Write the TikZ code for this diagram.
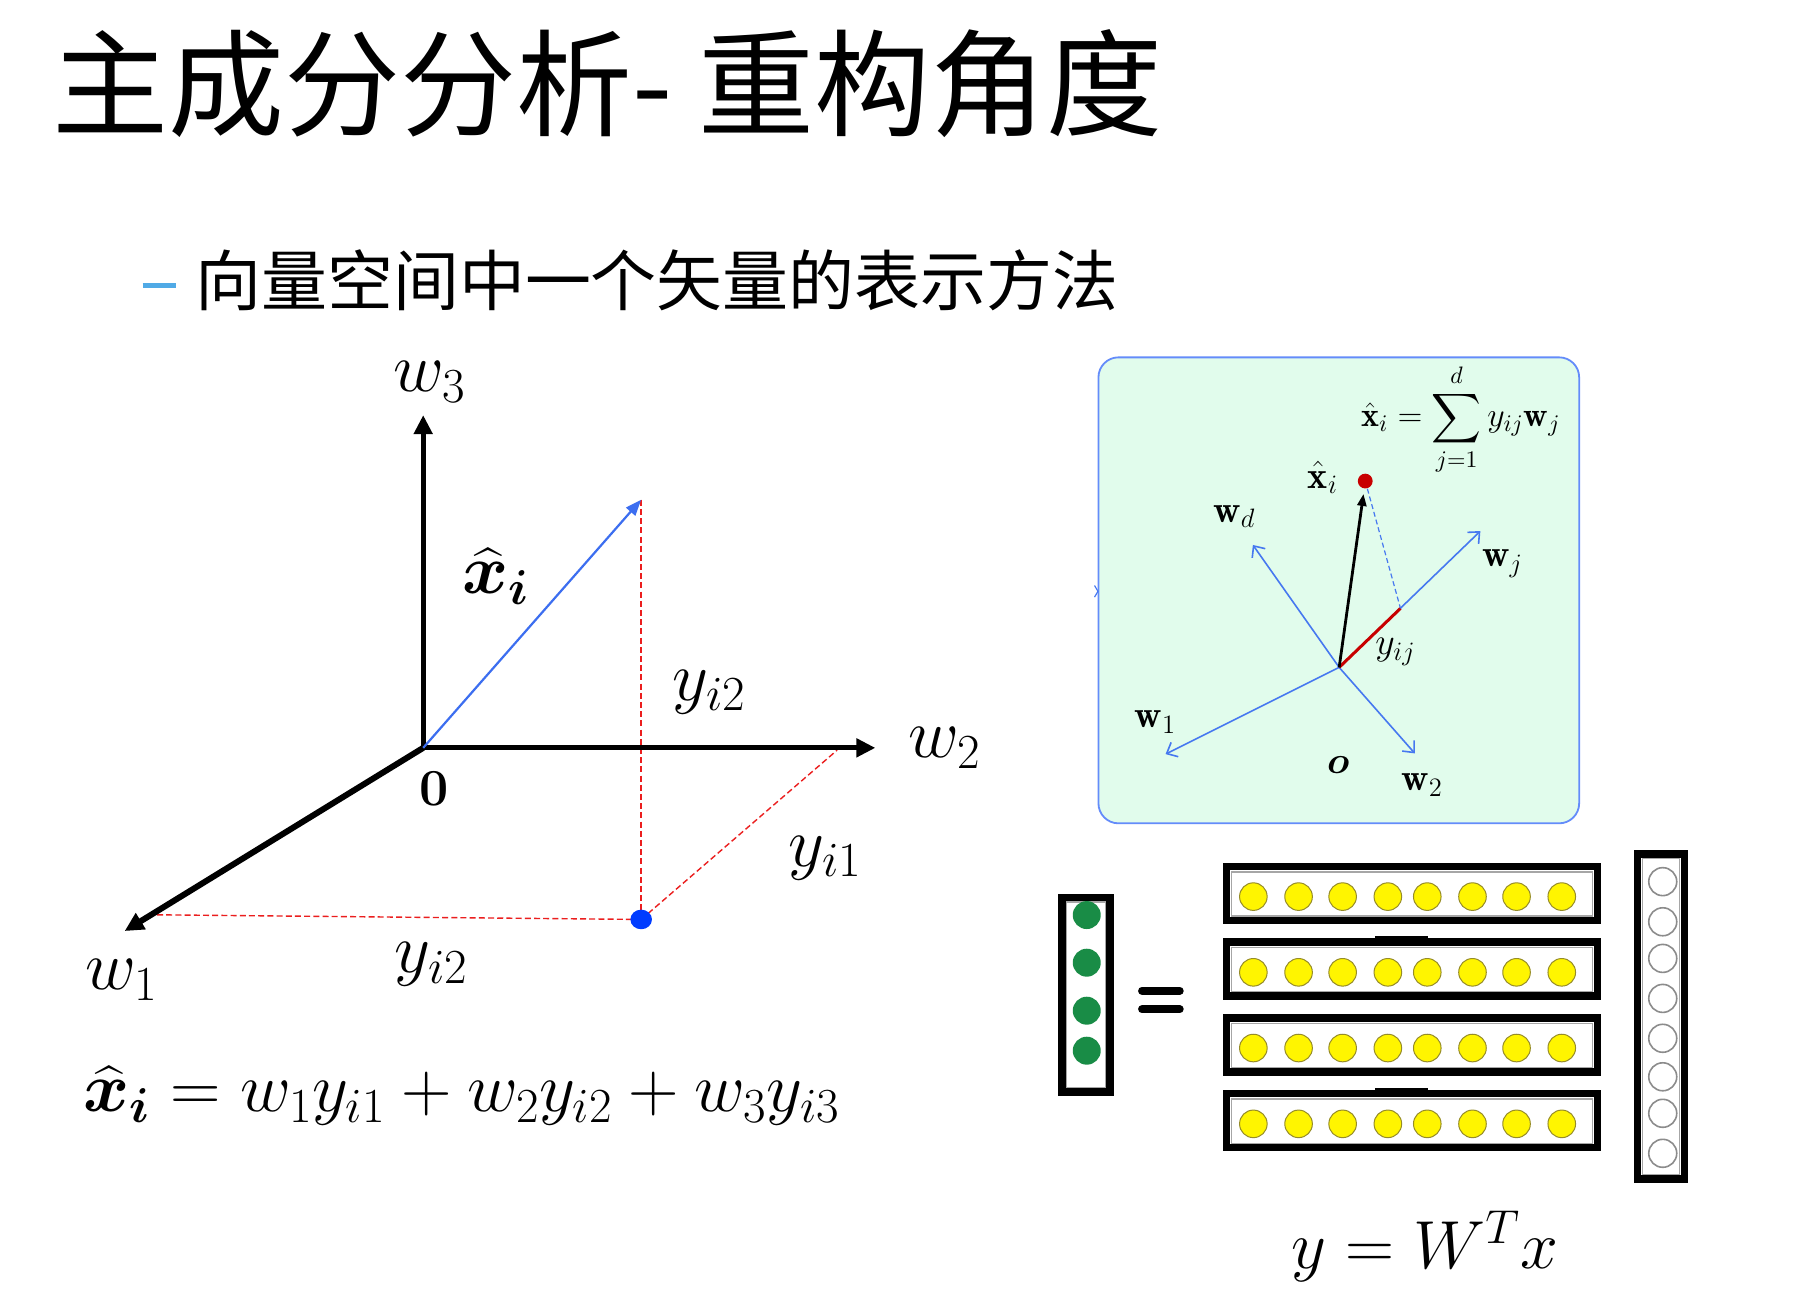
\RequirePackage{fix-cm}
\documentclass[tikz,border=0pt]{standalone}
\usepackage{amsmath,bm}
\usepackage{fontspec}
\newfontfamily\cjk{Noto Sans CJK SC}
\usetikzlibrary{arrows.meta}
\definecolor{dashblue}{RGB}{80,170,230}
\definecolor{vecblue}{RGB}{60,110,240}
\definecolor{dotblue}{RGB}{0,60,255}
\definecolor{pfill}{RGB}{225,252,236}
\definecolor{pborder}{RGB}{100,140,250}
\definecolor{parrow}{RGB}{70,120,240}
\definecolor{pred}{RGB}{200,0,0}
\definecolor{dred}{RGB}{235,30,30}
\definecolor{ygreen}{RGB}{25,140,70}
\definecolor{yfill}{RGB}{255,245,0}
\definecolor{yedge}{RGB}{150,140,40}
\begin{document}
\begin{tikzpicture}[x=0.58pt,y=-0.58pt,
  mlabel/.style={inner sep=0pt,font=\fontsize{35}{35}\selectfont},
  plabel/.style={inner sep=0pt,font=\fontsize{19}{19}\selectfont},
  axis/.style={line width=2.6pt,-{Triangle[length=9.5pt,width=9pt]}},
  reddash/.style={draw=dred,line width=0.7pt,dash pattern=on 3pt off 1.6pt},
  parr/.style={draw=parrow,line width=0.8pt,-{Straight Barb[length=4.5pt,width=8pt]}},
  frame/.style={draw=black,line width=3.8pt},
  inframe/.style={draw=black!35,line width=0.7pt},
  ybead/.style={fill=yfill,draw=yedge,line width=0.5pt},
  gbead/.style={fill=ygreen},
  wbead/.style={fill=white,draw=black!45,line width=0.8pt}]
\useasboundingbox (0,0) rectangle (1568,1120);
\fill[white] (0,0) rectangle (1568,1120);

% titles
\node[anchor=west,inner sep=0pt,font=\cjk\fontsize{58}{58}\selectfont] (title) at (45,72) {主成分分析- 重构角度};
\node[anchor=west,inner sep=0pt,font=\cjk\fontsize{33}{33}\selectfont] (sub) at (168,242) {向量空间中一个矢量的表示方法};
\draw[dashblue,line width=2.3pt] (123,246) -- (152,246);

% left 3D axes
\coordinate (O) at (365,645);
\coordinate (W3) at (365,358);
\coordinate (W2) at (755,645);
\coordinate (W1) at (107.5,803);
\coordinate (X) at (553,431);
\coordinate (P) at (553,793);
\coordinate (Q) at (722,647);
\coordinate (R) at (135,789);
\draw[reddash] (X) -- (P);
\draw[reddash] (P) -- (Q);
\draw[reddash] (P) -- (R);
\draw[axis] (O) -- (W3);
\draw[axis] (O) -- (W2);
\draw[axis,line width=3pt] (O) -- (W1);
\draw[vecblue,line width=1.1pt,-{Triangle[length=8pt,width=6pt]}] (O) -- (X);
\fill[dotblue] (P) ellipse (5.4pt and 4.9pt);

\node[mlabel] (lw3) at (371,329.5) {$w_3$};
\node[mlabel] (lw2) at (815,645) {$w_2$};
\node[mlabel] (lw1) at (105,845) {$w_1$};
\node[mlabel] (lxi) at (428,497) {$\bm{\widehat{x}}_{\bm{i}}$};
\node[mlabel] (lyi2a) at (612,597) {$y_{i2}$};
\node[mlabel] (lyi1) at (712,740) {$y_{i1}$};
\node[mlabel] (lyi2b) at (372,832) {$y_{i2}$};
\node[inner sep=0pt,font=\fontsize{26}{26}\selectfont\bfseries] (zero) at (374,680) {0};
\node[mlabel,anchor=west] (eq) at (72,945) {$\bm{\widehat{x}}_{\bm{i}} = w_1y_{i1}+w_2y_{i2}+w_3y_{i3}$};

% right panel
\draw[fill=pfill,draw=pborder,line width=0.9pt,rounded corners=10pt] (947.4,308.2) rectangle (1362,710.1);
\draw[parrow,line width=0.6pt] (944,505) -- (947,510) -- (944,515);
\coordinate (PO) at (1155,575.6);
\coordinate (Pwd) at (1080.6,470);
\coordinate (Pwj) at (1276.8,458);
\coordinate (Pw1) at (1005.3,650.4);
\coordinate (Pw2) at (1220.3,649.8);
\coordinate (Pxt) at (1176,426);
\coordinate (Pdot) at (1177.5,414.9);
\coordinate (Pyj) at (1207.9,524.7);
\draw[parr] (PO) -- (Pwd);
\draw[parr] (PO) -- (Pwj);
\draw[parr] (PO) -- (Pw1);
\draw[parr] (PO) -- (Pw2);
\draw[pred,line width=1.5pt] (PO) -- (Pyj);
\draw[parrow,line width=0.6pt,dash pattern=on 2.5pt off 1.5pt] (Pdot) -- (Pyj);
\draw[black,line width=1.4pt,-{Triangle[length=6pt,width=4.5pt]}] (PO) -- (Pxt);
\fill[pred] (Pdot) circle (3.7pt);

\node[plabel] (pwd) at (1064.6,445.6) {$\mathbf{w}_d$};
\node[plabel] (pxi) at (1141,412) {$\hat{\mathbf{x}}_i$};
\node[plabel] (pwj) at (1296,486) {$\mathbf{w}_j$};
\node[plabel] (pyij) at (1203.5,562) {$y_{ij}$};
\node[plabel] (pw1) at (996.5,622.5) {$\mathbf{w}_1$};
\node[plabel] (po) at (1154.3,659.8) {$\bm{o}$};
\node[plabel] (pw2) at (1226.7,677) {$\mathbf{w}_2$};
\node[inner sep=0pt,font=\fontsize{17}{17}\selectfont] (pform) at (1260,362) {$\displaystyle\hat{\mathbf{x}}_i=\sum_{j=1}^{d}y_{ij}\mathbf{w}_j$};

% green column
\draw[frame] (916.1,774.4) rectangle (957.6,942);
\draw[inframe] (920,778) rectangle (953.5,938);
\foreach \yy in {789.2,830.3,871.7,906.2} \fill[gbead] (937.3,\yy) circle (7pt);

% equals sign
\draw[line width=4pt,line cap=round] (985,854.5) -- (1017.5,854.5);
\draw[line width=4pt,line cap=round] (985,870.5) -- (1017.5,870.5);

% rows
\foreach \t in {744,809.3,874.6,940} {
  \draw[frame] (1057.8,\t+3.2) rectangle (1377.8,\t+49.8);
  \draw[inframe] (1062,\t+8) rectangle (1373.5,\t+46);
  \foreach \xx in {1081,1120,1158,1197,1231,1270,1308,1347}
    \draw[ybead] (\xx,\t+29.3) circle (6.9pt);
}
\draw[line width=1.4pt] (1186,808.5) -- (1232,808.5);
\draw[line width=1.4pt] (1186,939.2) -- (1232,939.2);

% right column
\draw[frame] (1412.3,736.6) rectangle (1452.7,1017.1);
\draw[inframe] (1416.5,740.5) rectangle (1448.5,1013);
\foreach \yy in {760.4,795,826.6,861.1,895.5,928.7,960.2,994.7} \draw[wbead] (1434.1,\yy) circle (7pt);

\node[inner sep=0pt,font=\fontsize{34}{34}\selectfont] (yw) at (1229,1075) {$y = W^T x$};
\end{tikzpicture}
\end{document}
